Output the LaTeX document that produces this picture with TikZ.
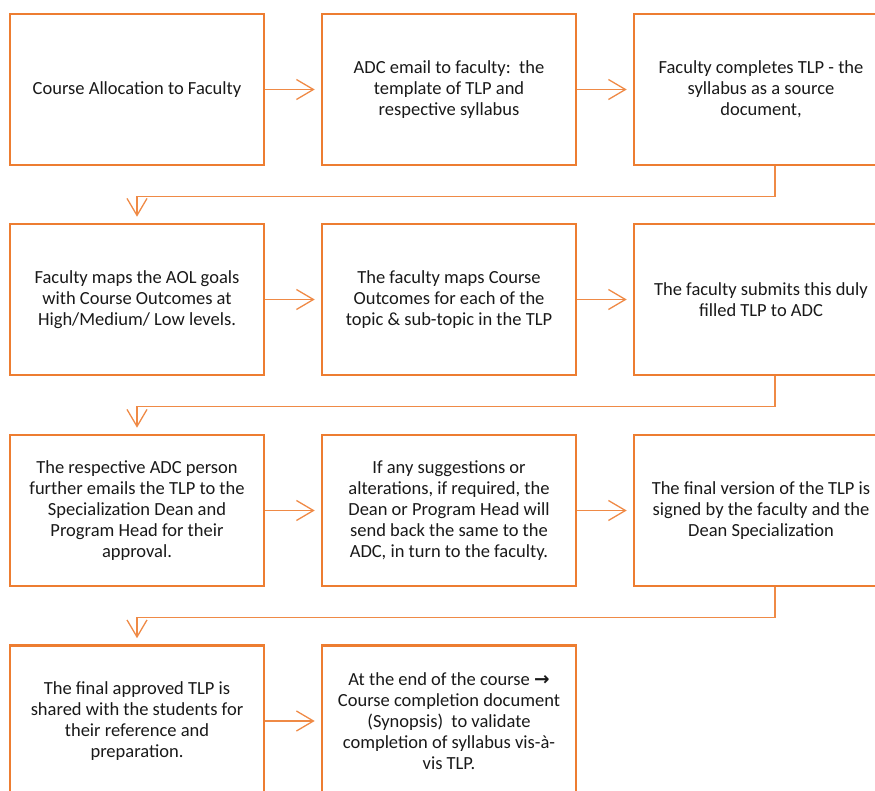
\documentclass[tikz,border=0pt]{standalone}
\usepackage{fontspec}
\setmainfont{Carlito}
\newfontfamily\dejavu{DejaVu Sans}
\usetikzlibrary{arrows.meta}
\definecolor{orng}{RGB}{237,125,49}
\tikzset{
  box/.style={draw=orng, line width=2.6pt, minimum width=254pt, minimum height=151pt,
    inner sep=0pt, align=center, font=\fontsize{18.5}{21}\selectfont, text=black!90},
  conn/.style={draw=orng!90, line width=1.3pt, shorten >=6pt,
    -{Straight Barb[length=17pt,width=20pt,line width=1.3pt]}}
}
\begin{document}
\begin{tikzpicture}[x=1pt,y=-1pt]
\useasboundingbox (0,0) rectangle (875,791);
\clip (0,0) rectangle (875,791);
% row 1
\node[box] (b1) at (137,89.5) {Course Allocation to Faculty};
\node[box] (b2) at (449,89.5) {ADC email to faculty:\ \ the\\template of TLP and\\respective syllabus};
\node[box] (b3) at (761,89.5) {Faculty completes TLP - the\\syllabus as a source\\document,};
% row 2
\node[box] (b4) at (137,299.5) {Faculty maps the AOL goals\\with Course Outcomes at\\High/Medium/ Low levels.};
\node[box] (b5) at (449,299.5) {The faculty maps Course\\Outcomes for each of the\\topic \& sub-topic in the TLP};
\node[box] (b6) at (761,299.5) {The faculty submits this duly\\filled TLP to ADC};
% row 3
\node[box] (b7) at (137,510.5) {The respective ADC person\\further emails the TLP to the\\Specialization Dean and\\Program Head for their\\approval.};
\node[box] (b8) at (449,510.5) {If any suggestions or\\alterations, if required, the\\Dean or Program Head will\\send back the same to the\\ADC, in turn to the faculty.};
\node[box] (b9) at (761,510.5) {The final version of the TLP is\\signed by the faculty and the\\Dean Specialization};
% row 4
\node[box] (b10) at (137,721) {The final approved TLP is\\shared with the students for\\their reference and\\preparation.};
\node[box] (b11) at (449,721) {At the end of the course {\dejavu\bfseries →}\\Course completion document\\(Synopsis)\ \ to validate\\completion of syllabus vis-à-\\vis TLP.};
% connectors
\draw[conn] (b1.east) -- (b2.west);
\draw[conn] (b2.east) -- (b3.west);
\draw[conn] (b4.east) -- (b5.west);
\draw[conn] (b5.east) -- (b6.west);
\draw[conn] (b7.east) -- (b8.west);
\draw[conn] (b8.east) -- (b9.west);
\draw[conn] (b10.east) -- (b11.west);
\draw[conn] ([xshift=14pt]b3.south) -- ++(0,30) -| (b4.north);
\draw[conn] ([xshift=14pt]b6.south) -- ++(0,30) -| (b7.north);
\draw[conn] ([xshift=14pt]b9.south) -- ++(0,30) -| (b10.north);
\end{tikzpicture}
\end{document}
